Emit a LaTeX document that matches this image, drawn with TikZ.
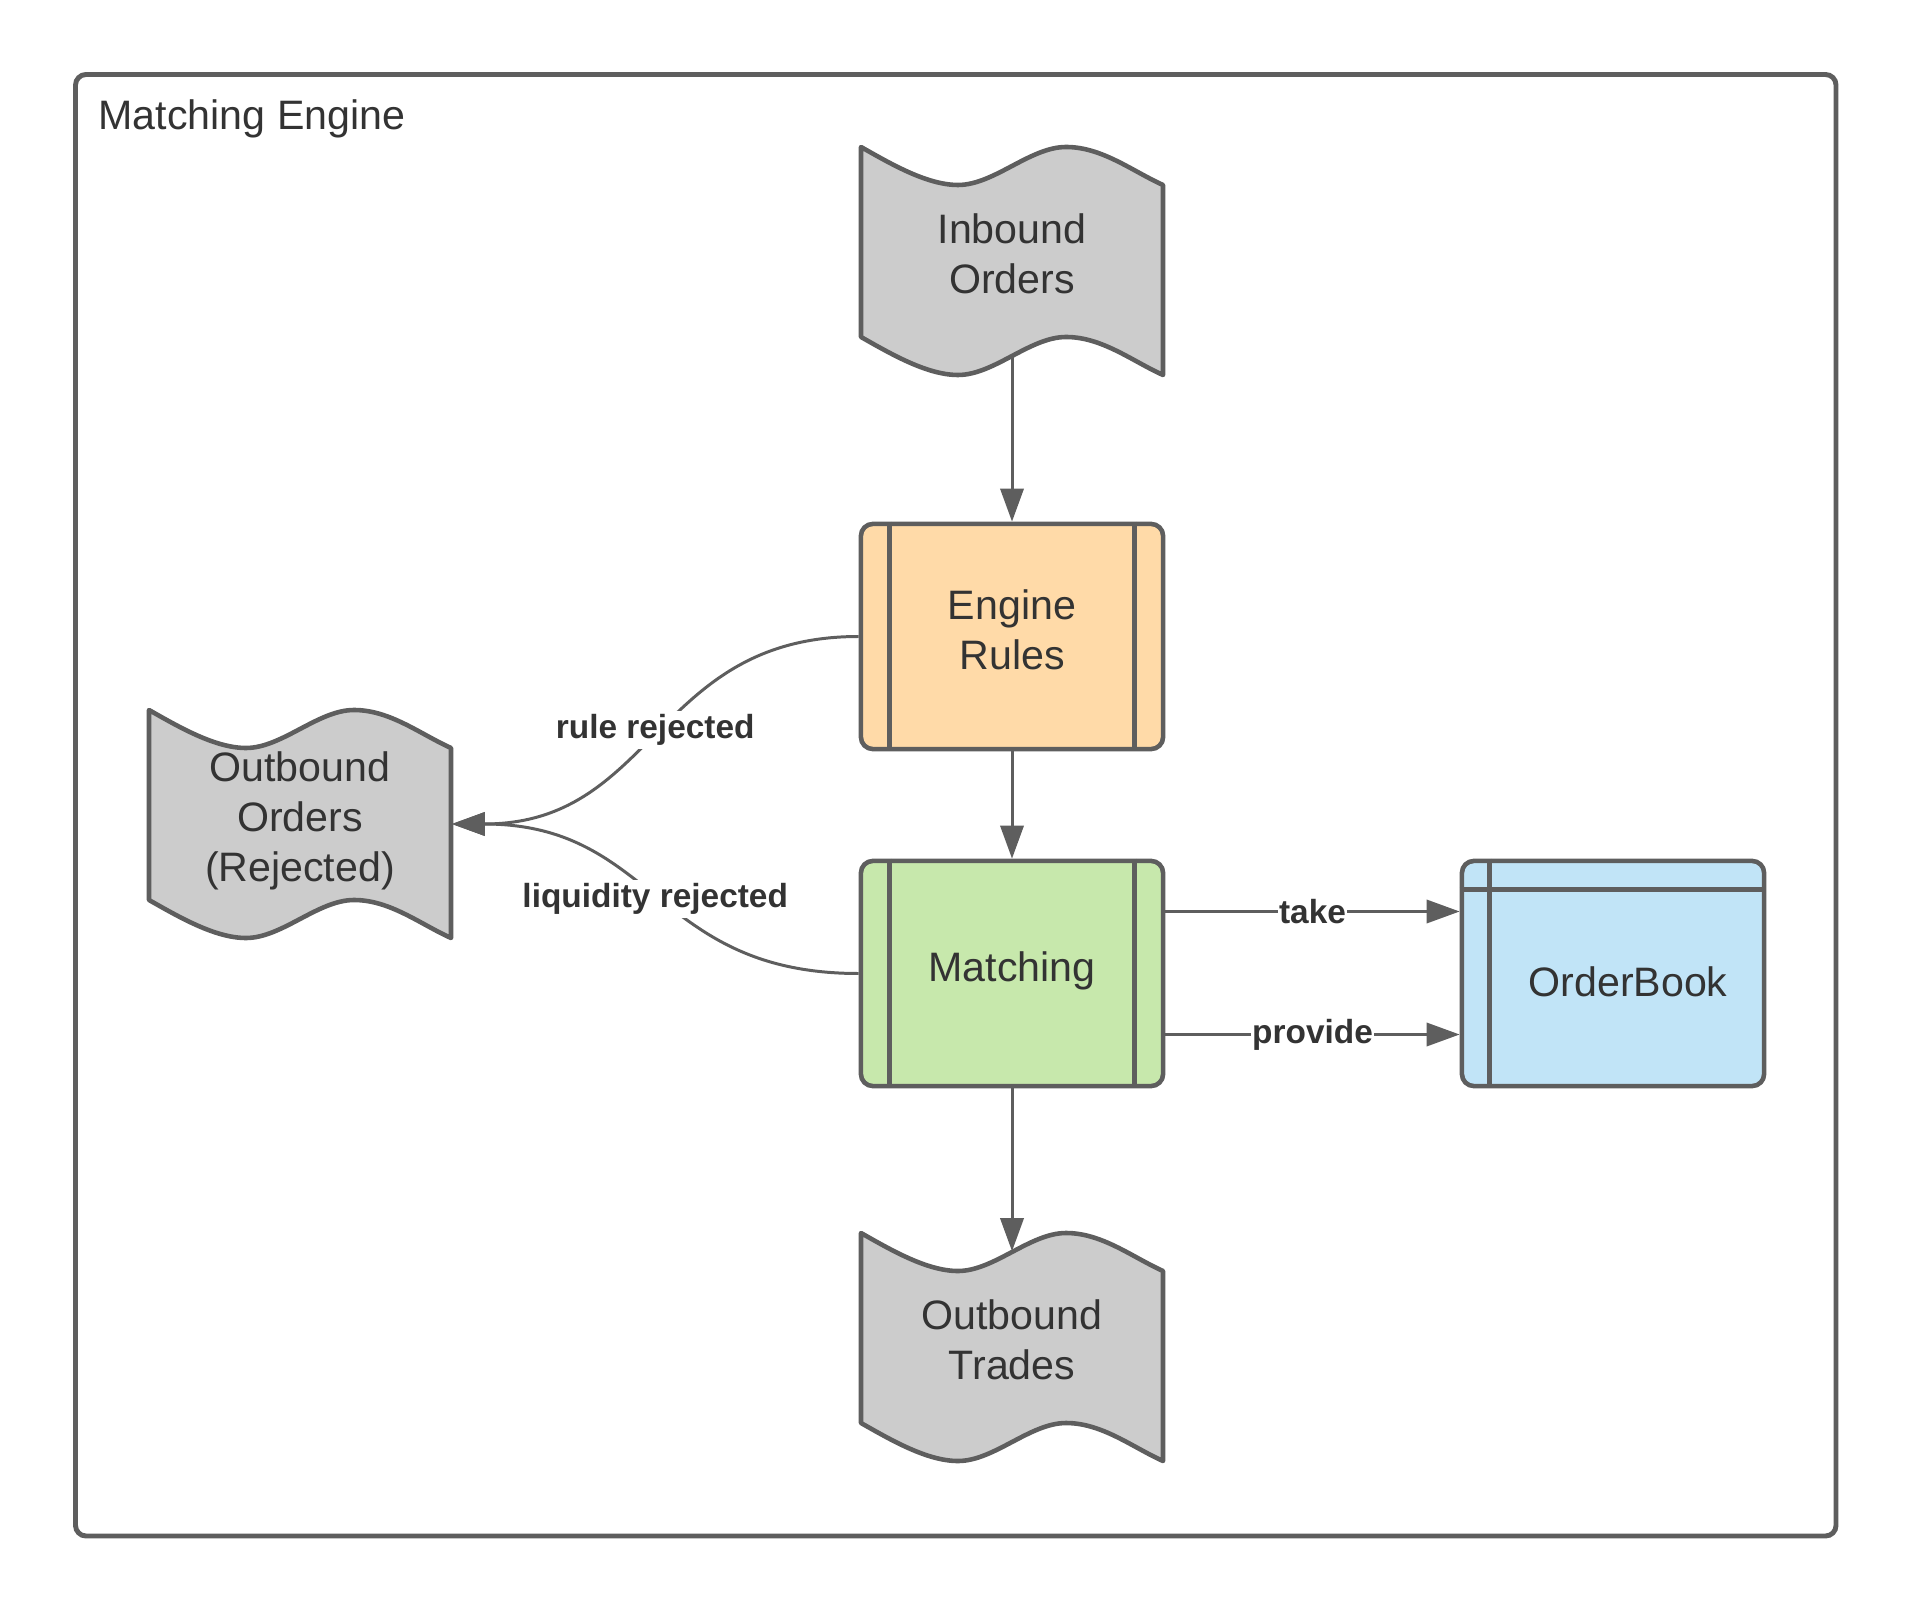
\documentclass[tikz,border=0pt]{standalone}
\usepackage{fontspec}
\setmainfont{Liberation Sans}
\usetikzlibrary{arrows.meta, calc}

\definecolor{linegray}{RGB}{94, 94, 94}
\definecolor{textgray}{RGB}{51, 51, 51}
\definecolor{tapegray}{RGB}{204, 204, 204}
\definecolor{rulesorange}{RGB}{255, 218, 168}
\definecolor{matchgreen}{RGB}{199, 232, 172}
\definecolor{bookblue}{RGB}{193, 228, 247}

\tikzset{
  shapeline/.style = {draw = linegray, line width = 1.3pt, line join = round},
  nodetext/.style = {text = textgray, font = \fontsize{11.7}{14.2}\selectfont, align = center, text depth = 4pt},
  procbox/.style = {shapeline, nodetext, rounded corners = 3.4pt, minimum width = 3.02cm, minimum height = 2.25cm, inner sep = 0pt},
  tapebox/.style = {nodetext, minimum width = 3.02cm, minimum height = 2.28cm, inner sep = 0pt},
  flow/.style = {draw = linegray, line width = 0.85pt, -{Triangle[length = 9.4pt, width = 6.6pt]}},
  flowlabel/.style = {fill = white, inner sep = 1pt, text = textgray, font = \bfseries\fontsize{9.5}{11}\selectfont}
}

\newcommand{\tapeshape}[3]{%
  \begin{scope}[shift = {(#2)}]
    \draw [shapeline, fill = tapegray] (0, 0) .. controls (30, 17) and (66, 38) .. (97, 38) .. controls (133, 38) and (169, 0) .. (205, 0) .. controls (241, 0) and (271, 24) .. (302, 38) -- (302, 228) .. controls (271, 214) and (241, 190) .. (205, 190) .. controls (169, 190) and (133, 228) .. (97, 228) .. controls (66, 228) and (30, 207) .. (0, 190) -- cycle;
  \end{scope}
  \node [tapebox] (#1) at ($(#2)+(151, 114)$) {#3};
}

\newcommand{\sidebars}[1]{%
  \draw [shapeline] ($(#1.north west)+(31, 0)$) -- ($(#1.south west)+(31, 0)$);
  \draw [shapeline] ($(#1.north east)+(-31, 0)$) -- ($(#1.south east)+(-31, 0)$);
}

\begin{document}
\begin{tikzpicture}[x = 0.01cm, y = -0.01cm]
  \useasboundingbox (0, 0) rectangle (1913, 1613);

  \draw [draw = linegray, line width = 1.4pt, rounded corners = 3pt] (75.5, 74.5) rectangle (1836, 1536);
  \node [anchor = base west, inner sep = 0pt, text = textgray, font = \fontsize{11.7}{14.2}\selectfont] (title) at (98, 130) {Matching Engine};

  \tapeshape{inb}{861, 147}{Inbound\\Orders}
  \tapeshape{rej}{149, 710}{Outbound\\Orders\\(Rejected)}
  \tapeshape{trades}{861, 1233}{Outbound\\Trades}

  \node [procbox, fill = rulesorange] (rules) at (1012, 636.5) {Engine\\Rules};
  \sidebars{rules}
  \node [procbox, fill = matchgreen] (match) at (1012, 973.5) {Matching};
  \sidebars{match}

  \node [procbox, fill = bookblue] (book) at (1613, 973.5) {};
  \draw [shapeline] ($(book.north west)+(30, 0)$) -- ($(book.south west)+(30, 0)$);
  \draw [shapeline] ($(book.north west)+(0, 31)$) -- ($(book.north east)+(0, 31)$);
  \node [nodetext] (booktext) at ($(book.center)+(15, 15)$) {OrderBook};

  \draw [flow] ($(inb.south)+(0, -19)$) -- (rules.north);
  \draw [flow] (rules.south) -- (match.north);
  \draw [flow] (match.south) -- ($(trades.north)+(0, 19)$);

  \draw [flow] ($(match.east)+(0, -62)$) -- ($(book.west)+(0, -62)$) node [flowlabel, inner sep = 0.3pt, midway] {take};
  \draw [flow] ($(match.east)+(0, 61)$) -- ($(book.west)+(0, 61)$) node [flowlabel, inner sep = 0.3pt, midway] {provide};

  \draw [flow] (rules.west) .. controls +(-204, 0) and +(204, 0) .. (rej.east) node [flowlabel, pos = 0.5] {rule rejected};
  \draw [flow] (match.west) .. controls +(-204, 0) and +(204, 0) .. (rej.east) node [flowlabel, pos = 0.5] {liquidity rejected};
\end{tikzpicture}
\end{document}
